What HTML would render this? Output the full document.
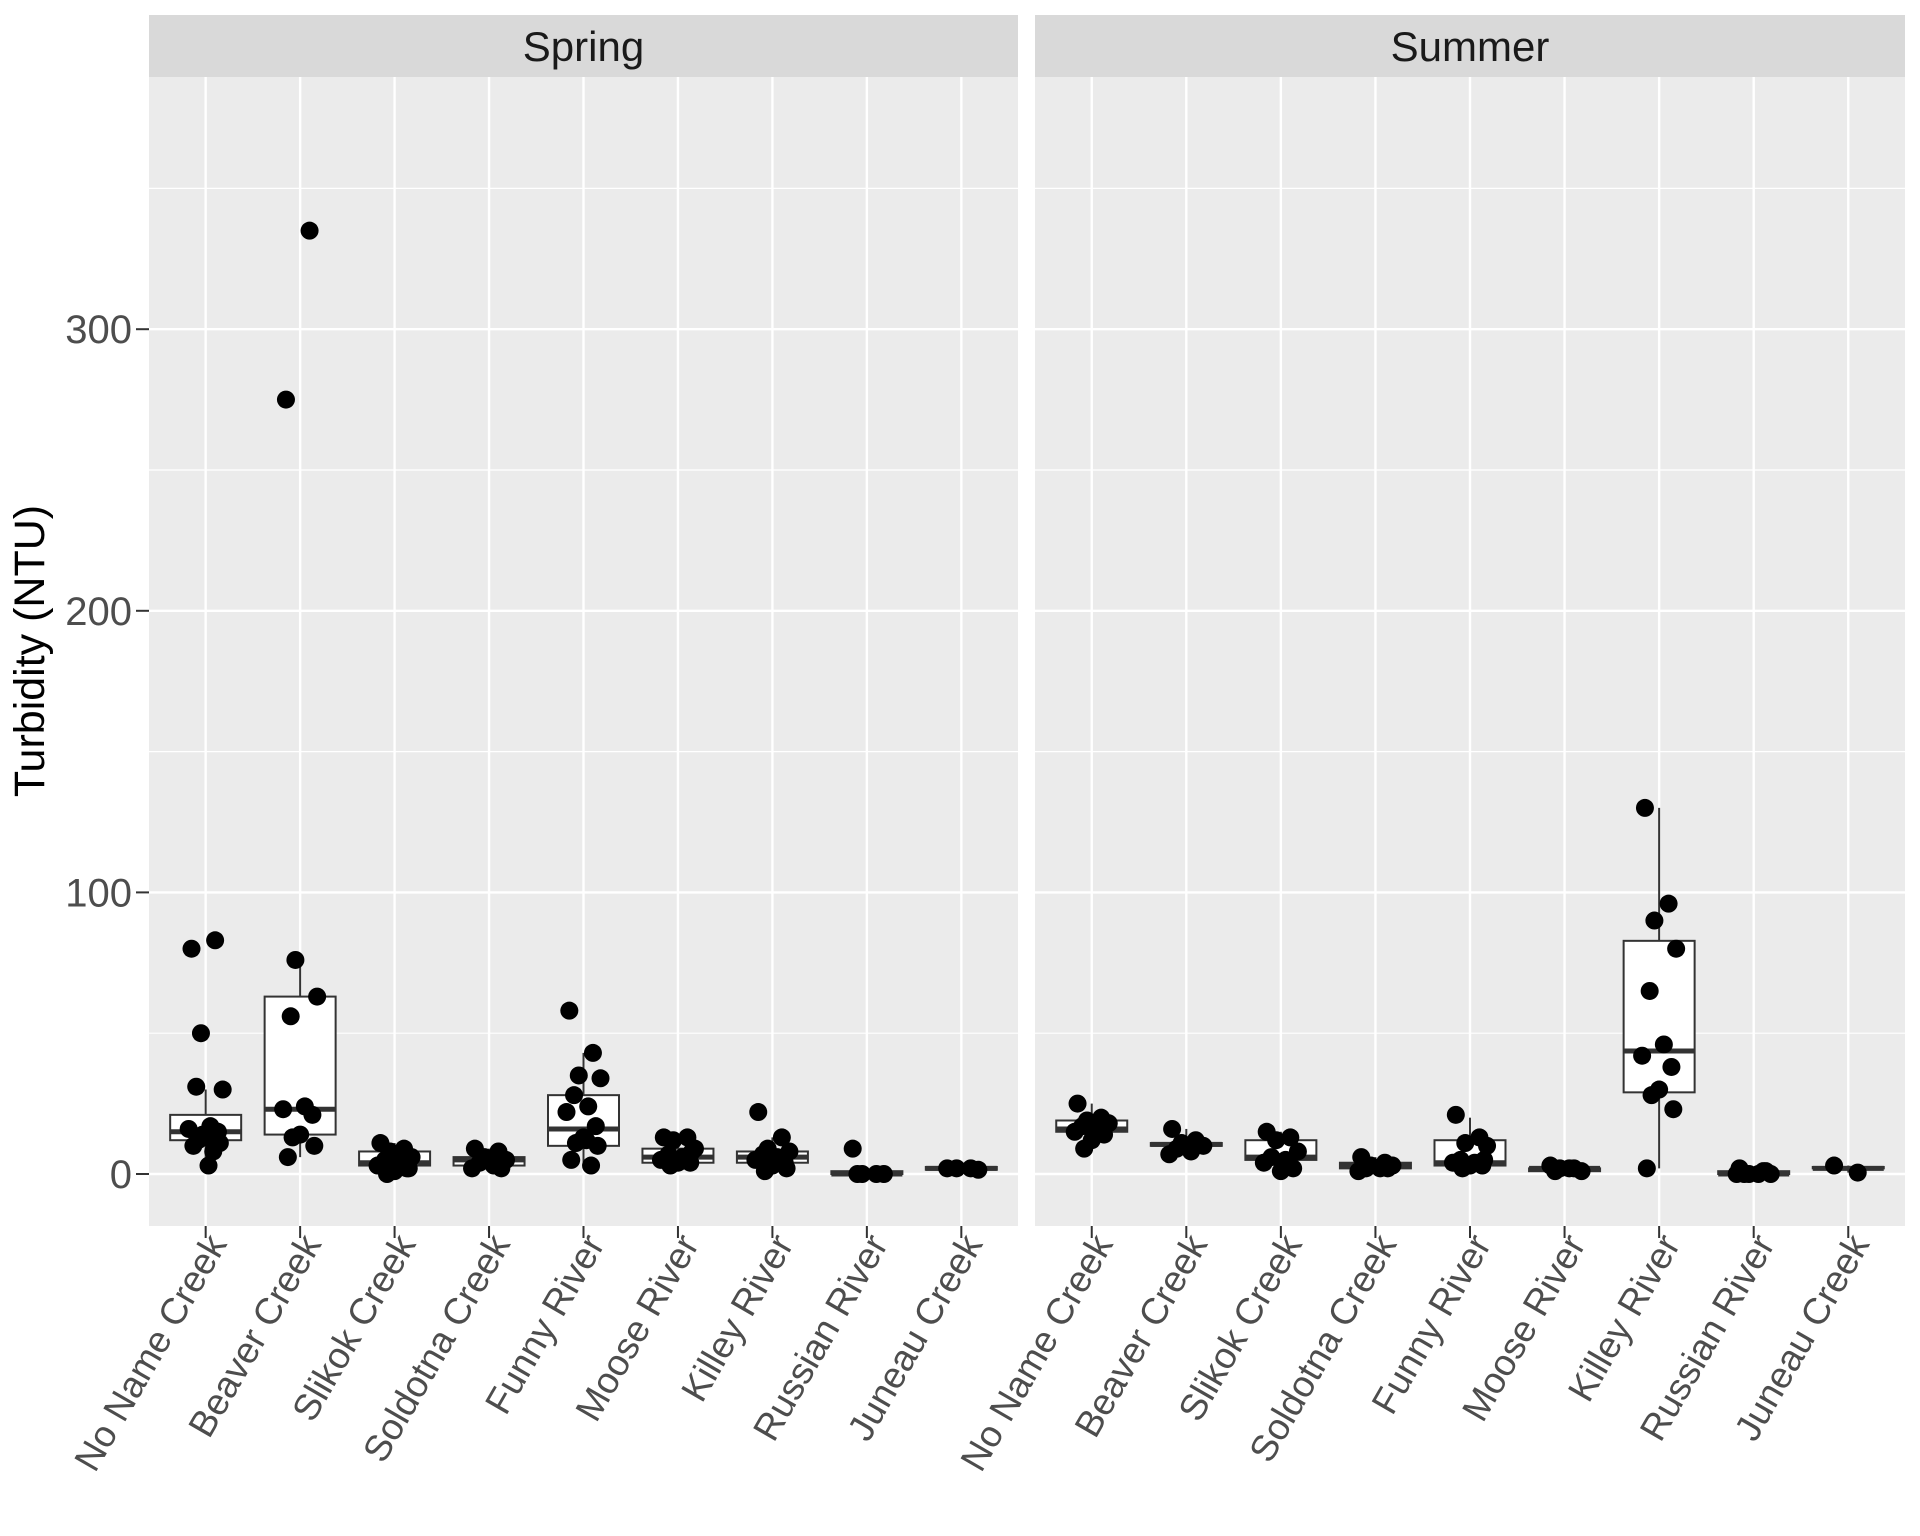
<!DOCTYPE html>
<html><head><meta charset="utf-8"><style>
html,body{margin:0;padding:0;background:#fff;}
svg{display:block;}
</style></head><body>
<svg id="s" width="1920" height="1536" xmlns="http://www.w3.org/2000/svg" font-family="Liberation Sans, sans-serif"></svg>
<script>
var s=document.getElementById('s'),NS='http://www.w3.org/2000/svg';
function el(t,a,txt){var e=document.createElementNS(NS,t);for(var k in a)e.setAttribute(k,a[k]);if(txt!=null)e.textContent=txt;s.appendChild(e);return e;}
var Y0=1174,K=2.816;function Y(v){return Y0-v*K;}
var PT=77,PB=1226;
var panels=[{x0:149,x1:1018,title:'Spring'},{x0:1035,x1:1905,title:'Summer'}];
var names=['No Name Creek','Beaver Creek','Slikok Creek','Soldotna Creek','Funny River','Moose River','Killey River','Russian River','Juneau Creek'];
var data=[
[ // spring
 {b:[3,12,15,21,30],p:[80,83,50,30,31,17,16,15,13,12,11,10,8,3,14]},
 {b:[6,14,23,63,76],p:[275,335,76,63,56,24,23,21,14,13,10,6]},
 {b:[0,3,4,8,11],p:[11,9,8,6,5,4,3,2,1,0,2]},
 {b:[2,3,5,6,9],p:[9,8,6,5,4,3,2,2,5]},
 {b:[3,10,16,28,43],p:[58,43,35,34,28,24,22,17,13,11,10,5,3,12]},
 {b:[3,4,6,9,13],p:[13,13,12,9,7,6,5,4,4,3,8]},
 {b:[1,4,6,8,13],p:[22,13,9,8,7,6,5,4,3,1,2]},
 {b:[0,0,0,1,1],p:[9,0,0,0,0]},
 {b:[1,1.5,2,2.5,3],p:[2,2,2,1.5]}
],[ // summer
 {b:[9,15,16,19,25],p:[25,20,19,18,17,16,15,14,12,9]},
 {b:[7,10,10.5,11,16],p:[16,12,11,10,9,8,7]},
 {b:[1,5,6,12,15],p:[15,13,12,8,6,5,4,2,1]},
 {b:[1,2,3,4,6],p:[6,4,3,3,2,2,1,2]},
 {b:[2,3,4,12,20],p:[21,13,11,10,5,4,4,3,3,2,5]},
 {b:[1,1,2,2,3],p:[3,2,2,1,1,2]},
 {b:[2,29,43.7,82.8,130],p:[130,96,90,80,65,46,42,38,30,28,23,2]},
 {b:[0,0,0,1,1],p:[2,1,0,0,0,0,0,1]},
 {b:[0.5,2,2,2.5,3],p:[3,0.5]}
]];
var jit=[-0.15,0.1,-0.05,0.18,-0.1,0.05,-0.18,0.13,0,-0.08,0.15,-0.13,0.08,0.03,-0.03];
[0,100,200,300].forEach(function(v){
 el('text',{x:132,y:Y(v)+14,'text-anchor':'end','font-size':40,fill:'#4d4d4d'},String(v));
 el('line',{x1:136,x2:149,y1:Y(v),y2:Y(v),stroke:'#333','stroke-width':2});
});
el('text',{x:0,y:0,transform:'translate(44,651) rotate(-90)','text-anchor':'middle','font-size':43,fill:'#000'},'Turbidity (NTU)');
panels.forEach(function(P,pi){
 var w=P.x1-P.x0,step=w/9.2,cx=function(i){return P.x0+step*(0.6+i);};
 el('rect',{x:P.x0,y:15,width:w,height:62,fill:'#d9d9d9'});
 el('text',{x:(P.x0+P.x1)/2,y:61,'text-anchor':'middle','font-size':42,fill:'#1a1a1a'},P.title);
 el('rect',{x:P.x0,y:PT,width:w,height:PB-PT,fill:'#ebebeb'});
 [50,150,250,350].forEach(function(v){el('line',{x1:P.x0,x2:P.x1,y1:Y(v),y2:Y(v),stroke:'#fff','stroke-width':1.2});});
 [0,100,200,300].forEach(function(v){el('line',{x1:P.x0,x2:P.x1,y1:Y(v),y2:Y(v),stroke:'#fff','stroke-width':2.4});});
 for(var i=0;i<9;i++){var x=cx(i);
  el('line',{x1:x,x2:x,y1:PT,y2:PB,stroke:'#fff','stroke-width':2.4});
  el('line',{x1:x,x2:x,y1:PB,y2:PB+12,stroke:'#333','stroke-width':2});
  el('text',{x:0,y:0,transform:'translate('+(x+22)+','+(PB+18)+') rotate(-60)','text-anchor':'end','font-size':37,fill:'#4d4d4d'},names[i]);
 }
 data[pi].forEach(function(d,i){var x=cx(i),b=d.b,hw=35.5;
  el('line',{x1:x,x2:x,y1:Y(b[0]),y2:Y(b[4]),stroke:'#333','stroke-width':2});
  el('rect',{x:x-hw,y:Y(b[3]),width:2*hw,height:Math.max(Y(b[1])-Y(b[3]),1),fill:'#fff',stroke:'#333','stroke-width':2});
  el('line',{x1:x-hw,x2:x+hw,y1:Y(b[2]),y2:Y(b[2]),stroke:'#333','stroke-width':5});
  d.p.forEach(function(v,j){el('circle',{cx:x+jit[j%jit.length]*step,cy:Y(v),r:9,fill:'#000'});});
 });
});
</script>
</body></html>
